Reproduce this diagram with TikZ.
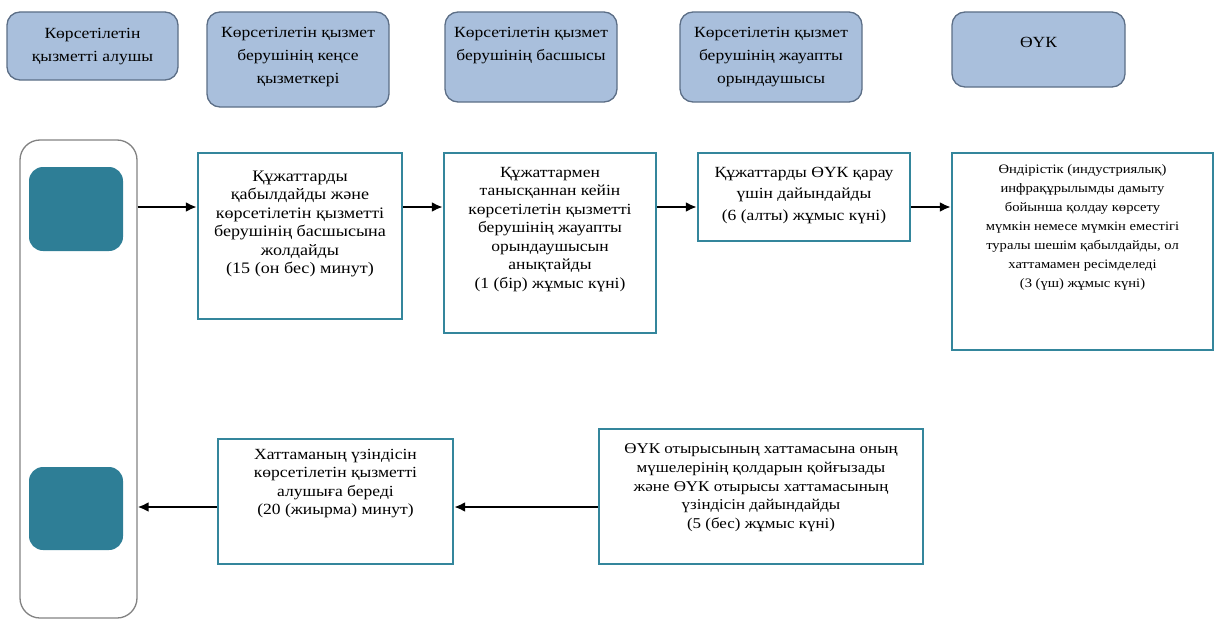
\documentclass[tikz,border=0pt]{standalone}
\usepackage{fontspec}
\setmainfont{Liberation Serif}[FakeStretch=1.13]
\usepackage{tikz}
\usetikzlibrary{positioning,arrows.meta}
\definecolor{headfill}{RGB}{169,191,220}
\definecolor{headline}{RGB}{92,110,134}
\definecolor{stepline}{RGB}{52,134,156}
\definecolor{tealfill}{RGB}{46,126,150}
\definecolor{laneline}{RGB}{130,130,130}

\begin{document}
\begin{tikzpicture}[x=1pt, y=-1pt, font=\rmfamily\fontsize{15.5}{18.5}\selectfont,
		head/.style={draw=headline, fill=headfill, rounded corners=13pt, line width=1.3pt, inner sep=0pt},
		stepbox/.style={draw=stepline, line width=2.4pt, inner sep=0pt},
		tealbox/.style={fill=tealfill, rounded corners=14pt, inner sep=0pt},
		txt/.style={align=center, inner sep=0pt},
		htxt/.style={align=center, inner sep=0pt, font=\rmfamily\fontsize{15.5}{23}\selectfont},
		flow/.style={-{Latex[length=11pt,width=10pt]}, line width=2.6pt}]

		\useasboundingbox (0,0) rectangle (1214,626);

		\node[head, minimum width=171pt, minimum height=68pt] (recv) at (92.5,46) {};
		\node[head, minimum width=182pt, minimum height=95pt] (office) at (298,59.5) {};
		\node[head, minimum width=172pt, minimum height=90pt] (chief) at (531,57) {};
		\node[head, minimum width=182pt, minimum height=90pt] (exec) at (771,57) {};
		\node[head, minimum width=173pt, minimum height=75pt] (ouk) at (1038.5,49.5) {};

		\node[htxt, below=17pt of recv.north] (recvT) {Көрсетілетін\\қызметті алушы};
		\node[htxt, below=16pt of office.north] (officeT) {Көрсетілетін қызмет\\берушінің кеңсе\\қызметкері};
		\node[htxt, below=16pt of chief.north] (chiefT) {Көрсетілетін қызмет\\берушінің басшысы};
		\node[htxt, below=16pt of exec.north] (execT) {Көрсетілетін қызмет\\берушінің жауапты\\орындаушысы};
		\node[htxt, below=26pt of ouk.north] (oukT) {ӨҮК};

		\node[draw=laneline, line width=1.3pt, rounded corners=20pt, minimum width=117pt, minimum height=478pt, inner sep=0pt] (lane) at (78.5,379) {};
		\node[tealbox, minimum width=94pt, minimum height=84pt] (in) at (76,209) {};
		\node[tealbox, minimum width=94pt, minimum height=83pt] (out) at (76,508.5) {};

		\node[stepbox, minimum width=204pt, minimum height=166pt] (accept) at (300,236) {};
		\node[stepbox, minimum width=212pt, minimum height=180pt] (assign) at (550,243) {};
		\node[stepbox, minimum width=212pt, minimum height=88pt] (prepare) at (804,197) {};
		\node[stepbox, minimum width=261pt, minimum height=197pt] (decide) at (1082.5,251.5) {};
		\node[stepbox, minimum width=324pt, minimum height=135pt] (sign) at (761,496.5) {};
		\node[stepbox, minimum width=235pt, minimum height=125pt] (issue) at (335.5,501.5) {};

		\node[txt, below=19pt of accept.north, font=\rmfamily\fontsize{16}{18.5}\selectfont] (acceptT) {Құжаттарды\\қабылдайды және\\көрсетілетін қызметті\\берушінің басшысына\\жолдайды\\(15 (он бес) минут)};
		\node[txt, below=15pt of assign.north] (assignT) {Құжаттармен\\танысқаннан кейін\\көрсетілетін қызметті\\берушінің жауапты\\орындаушысын\\анықтайды\\(1 (бір) жұмыс күні)};
		\node[txt, below=15pt of prepare.north, font=\rmfamily\fontsize{15.5}{21.5}\selectfont] (prepareT) {Құжаттарды ӨҮК қарау\\үшін дайындайды\\(6 (алты) жұмыс күні)};
		\node[txt, below=13pt of decide.north, font=\rmfamily\fontsize{12.9}{19}\selectfont] (decideT) {Өндірістік (индустриялық)\\инфрақұрылымды дамыту\\бойынша қолдау көрсету\\мүмкін немесе мүмкін еместігі\\туралы шешім қабылдайды, ол\\хаттамамен ресімделеді\\(3 (үш) жұмыс күні)};
		\node[txt, below=16pt of sign.north, font=\rmfamily\fontsize{15}{18.6}\selectfont] (signT) {ӨҮК отырысының хаттамасына оның\\мүшелерінің қолдарын қойғызады\\және ӨҮК отырысы хаттамасының\\үзіндісін дайындайды\\(5 (бес) жұмыс күні)};
		\node[txt, below=11pt of issue.north] (issueT) {Хаттаманың үзіндісін\\көрсетілетін қызметті\\алушыға береді\\(20 (жиырма) минут)};

		\draw[flow] (lane.east |- 0,207) -- (accept.west |- 0,207);
		\draw[flow] (accept.east |- 0,207) -- (assign.west |- 0,207);
		\draw[flow] (assign.east |- 0,207) -- (prepare.west |- 0,207);
		\draw[flow] (prepare.east |- 0,207) -- (decide.west |- 0,207);
		\draw[flow] (sign.west |- 0,507) -- (issue.east |- 0,507);
		\draw[flow] (issue.west |- 0,507) -- (lane.east |- 0,507);

\end{tikzpicture}
\end{document}
